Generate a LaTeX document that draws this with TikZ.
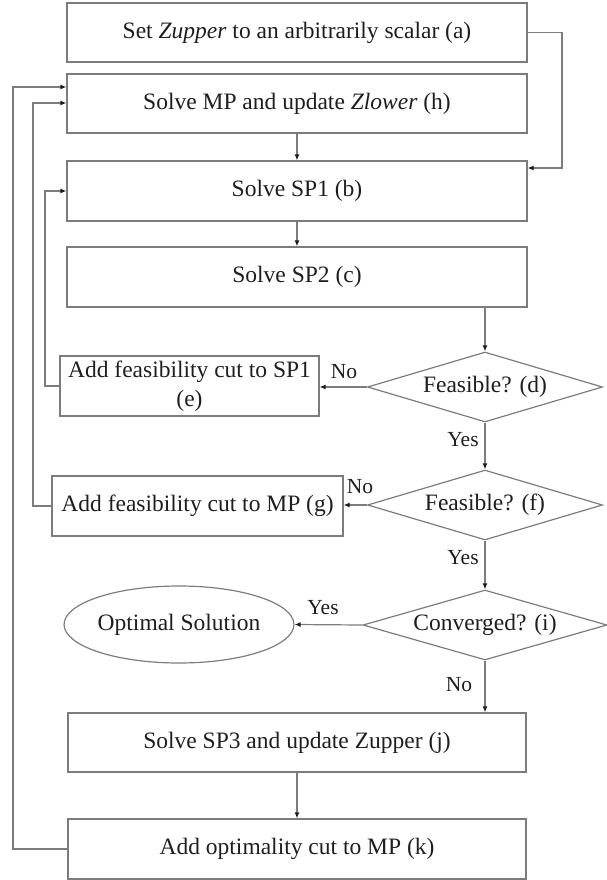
\documentclass[tikz,border=0pt]{standalone}
\usepackage{fontspec}
\setmainfont{Liberation Serif}
\usetikzlibrary{shapes.geometric,arrows.meta}
\definecolor{edge}{HTML}{7C7C7C}
\definecolor{ink}{HTML}{1E1E1E}
\begin{document}
\begin{tikzpicture}[x=1pt,y=-1pt,
  every node/.style={text=ink,font=\fontsize{23.5}{29}\selectfont},
  procbox/.style={draw=edge,line width=1.2pt,rectangle,inner sep=0pt,minimum height=60pt,align=center},
  decision/.style={draw=edge,line width=1.2pt,diamond,aspect=3.4,inner sep=0pt,minimum width=235pt,minimum height=70pt},
  terminal/.style={draw=edge,line width=1.2pt,ellipse,inner sep=0pt,minimum width=222pt,minimum height=77pt},
  flow/.style={draw=edge,line width=1.2pt,-{Latex[length=6pt,width=5pt,color=ink]}},
  tag/.style={font=\fontsize{21.5}{26}\selectfont}]
\useasboundingbox (0,0) rectangle (607,880);

% process boxes
\node[procbox,minimum width=460pt,minimum height=59pt] (a) at (297,32.5) {Set \textit{Zupper} to an arbitrarily scalar (a)};
\node[procbox,minimum width=460pt,minimum height=59pt] (h) at (297,103.5) {Solve MP and update \textit{Zlower} (h)};
\node[procbox,minimum width=460pt] (b) at (297,191) {Solve SP1 (b)};
\node[procbox,minimum width=460pt] (c) at (297,277) {Solve SP2 (c)};
\node[procbox,minimum width=259pt] (e) at (189.5,386) {Add feasibility cut to SP1\\(e)};
\node[procbox,minimum width=291pt] (g) at (197.5,506) {Add feasibility cut to MP (g)};
\node[procbox,minimum width=458pt,minimum height=59pt] (j) at (297,742.5) {Solve SP3 and update Zupper (j)};
\node[procbox,minimum width=458pt] (k) at (297,849) {Add optimality cut to MP (k)};

% decisions and end state
\node[decision] (d) at (485,387) {Feasible? (d)};
\node[decision] (f) at (485,505) {Feasible? (f)};
\node[decision,minimum width=244pt] (i) at (485,625) {Converged? (i)};
\node[terminal] (opt) at (179,624.5) {Optimal Solution};

% bend points of the side connectors
\coordinate (abend) at (562,168);
\coordinate (ebend) at (45,191);
\coordinate (gbend) at (33,103);
\coordinate (kbend) at (13,87);

% main flow
\draw[flow] (a.east) -| (abend) -- (abend -| b.east);
\draw[flow] (h.south) -- (b.north);
\draw[flow] (b.south) -- (c.north);
\draw[flow] (d.north |- c.south) -- (d.north);
\draw[flow] (d.south) -- (f.north);
\draw[flow] (f.south) -- (i.north);
\draw[flow] (i.south) -- (i.south |- j.north);
\draw[flow] (j.south) -- (k.north);

% branches
\draw[flow] (d.west) -- (d.west -| e.east);
\draw[flow] (f.west) -- (f.west -| g.east);
\draw[flow] (i.west) -- (opt.east);

% feedback loops
\draw[flow] (e.west) -| (ebend) -- (ebend -| b.west);
\draw[flow] (g.west) -| (gbend) -- (gbend -| h.west);
\draw[flow] (k.west) -| (kbend) -- (kbend -| h.west);

% branch labels
\node[tag] (no1) at (344,372) {No};
\node[tag] (no2) at (360,487) {No};
\node[tag] (yes1) at (463,440) {Yes};
\node[tag] (yes2) at (463,558) {Yes};
\node[tag] (yes3) at (323,608) {Yes};
\node[tag] (no3) at (459,685) {No};
\end{tikzpicture}
\end{document}
